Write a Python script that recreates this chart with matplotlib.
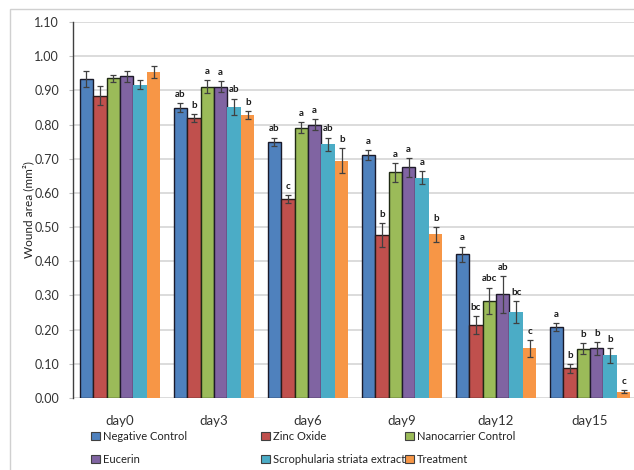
import numpy as np
import matplotlib
matplotlib.use("Agg")
import matplotlib.pyplot as plt
from matplotlib.patches import Rectangle, Patch

plt.rcParams['font.family'] = ['Lato', 'DejaVu Sans']

days = ["day0", "day3", "day6", "day9", "day12", "day15"]
groups = ["Negative Control", "Zinc Oxide", "Nanocarrier Control",
          "Eucerin", "Scrophularia striata extract", "Treatment"]
colors = ["#4F81BD", "#C0504D", "#9BBB59", "#8064A2", "#4BACC6", "#F79646"]

# mean wound area (mm²) per group, one value per day
negative_control = [0.933, 0.849, 0.750, 0.711, 0.421, 0.208]
zinc_oxide = [0.884, 0.820, 0.582, 0.477, 0.213, 0.087]
nanocarrier_control = [0.935, 0.911, 0.791, 0.660, 0.285, 0.144]
eucerin = [0.941, 0.911, 0.800, 0.675, 0.303, 0.145]
scrophularia_extract = [0.916, 0.852, 0.743, 0.644, 0.252, 0.125]
treatment = [0.954, 0.828, 0.694, 0.479, 0.145, 0.018]

# standard errors
err_negative_control = [0.024, 0.013, 0.012, 0.014, 0.022, 0.012]
err_zinc_oxide = [0.028, 0.012, 0.012, 0.035, 0.027, 0.013]
err_nanocarrier_control = [0.011, 0.018, 0.015, 0.027, 0.038, 0.016]
err_eucerin = [0.017, 0.016, 0.015, 0.027, 0.054, 0.019]
err_scrophularia_extract = [0.013, 0.024, 0.019, 0.019, 0.032, 0.022]
err_treatment = [0.017, 0.012, 0.036, 0.022, 0.025, 0.004]

# significance letters per day (day0 has none)
letters_negative_control = ["", "ab", "ab", "a", "a", "a"]
letters_zinc_oxide = ["", "b", "c", "b", "bc", "b"]
letters_nanocarrier_control = ["", "a", "a", "a", "abc", "b"]
letters_eucerin = ["", "a", "a", "a", "ab", "b"]
letters_scrophularia_extract = ["", "ab", "ab", "a", "bc", "b"]
letters_treatment = ["", "b", "b", "b", "c", "c"]

values = [negative_control, zinc_oxide, nanocarrier_control, eucerin,
          scrophularia_extract, treatment]
errors = [err_negative_control, err_zinc_oxide, err_nanocarrier_control,
          err_eucerin, err_scrophularia_extract, err_treatment]
letters = [letters_negative_control, letters_zinc_oxide,
           letters_nanocarrier_control, letters_eucerin,
           letters_scrophularia_extract, letters_treatment]
edge_colors = ["#1a1a2a", "#2a1a1a", "#1f2a14", "#1f1a2a", "none", "none"]

W, H = 634, 470
fig = plt.figure(figsize=(W / 100, H / 100), dpi=100)
fig.patch.set_facecolor("white")

# light outer frame of the chart area
fig.patches.append(Rectangle((10 / W, -0.05), 1.1, (H - 9) / H + 0.05,
                             transform=fig.transFigure, fill=False,
                             edgecolor="#d0d0d0", linewidth=1.0))

ax = fig.add_axes([73 / W, (H - 398) / H, 564 / W, 376 / H])
ax.set_xlim(-0.5, len(days) - 0.5)
ax.set_ylim(0, 1.10)

x = np.arange(len(days))
n = len(groups)
bw = 0.1436
for i in range(n):
    xs = x + (i - (n - 1) / 2) * bw
    ec = edge_colors[i]
    ax.bar(xs, values[i], width=bw, color=colors[i],
           edgecolor=ec, linewidth=1.0 if ec != "none" else 0, zorder=3)
    ax.errorbar(xs, values[i], yerr=errors[i], fmt="none", ecolor="#404040",
                elinewidth=0.9, capsize=2.5, capthick=0.9, zorder=4)
    for j in range(len(days)):
        if letters[i][j]:
            ax.text(xs[j], values[i][j] + errors[i][j] + 0.012, letters[i][j],
                    ha="center", va="bottom", fontsize=7, fontweight="bold",
                    color="#1a1a1a", zorder=5)

ax.set_yticks(np.arange(0, 1.101, 0.1))
ax.set_yticklabels([f"{v:.2f}" for v in np.arange(0, 1.101, 0.1)])
ax.set_xticks(x)
ax.set_xticklabels(days)
ax.grid(axis="y", color="#d9d9d9", linewidth=1.3, zorder=0)
ax.set_axisbelow(True)
for side in ["top", "right", "bottom"]:
    ax.spines[side].set_visible(False)
ax.spines["left"].set_color("#404040")
ax.spines["left"].set_linewidth(1.0)
ax.tick_params(axis="y", length=3, width=0.8, color="#bfbfbf",
               labelsize=9, labelcolor="#333333", pad=7)
ax.tick_params(axis="x", length=0, labelsize=9.5, labelcolor="#333333", pad=12)
ax.set_ylabel("Wound area (mm²)", fontsize=8.5, color="#222222")
ax.yaxis.set_label_coords(-0.069, 0.5)

handles = [Patch(facecolor=c, edgecolor="#404040", linewidth=0.8) for c in colors]
col_x = [91 / W, 261 / W, 405 / W]
for k in range(3):
    idx = [k, k + 3]
    lg = fig.legend([handles[i] for i in idx], [groups[i] for i in idx],
                    loc="upper left", bbox_to_anchor=(col_x[k], (H - 431) / H),
                    frameon=False, fontsize=8, handlelength=0.8,
                    handleheight=0.8, handletextpad=0.3, labelspacing=1.05,
                    borderpad=0, borderaxespad=0)
    for t in lg.get_texts():
        t.set_color("#222222")

fig.savefig("out.png", dpi=100, facecolor="white")
